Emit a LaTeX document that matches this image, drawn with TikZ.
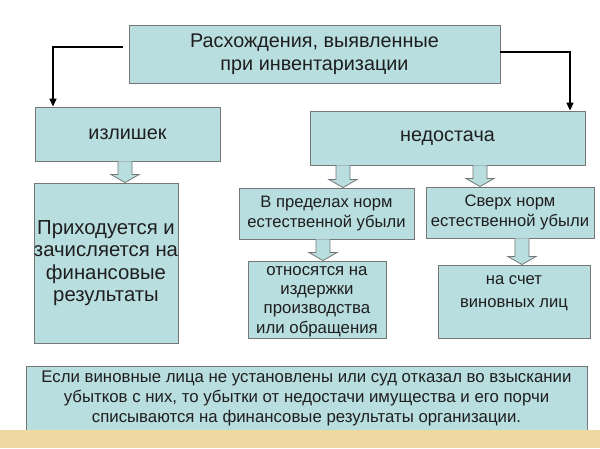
\documentclass[tikz,border=0pt]{standalone}
\usepackage{fontspec}
\setmainfont{Liberation Sans}
\usetikzlibrary{arrows.meta,calc}
\definecolor{boxfill}{RGB}{185,222,224}
\definecolor{boxline}{RGB}{118,118,118}
\definecolor{bandfill}{RGB}{238,217,160}
\definecolor{textdark}{RGB}{30,30,30}
\tikzset{
  box/.style={draw=boxline,fill=boxfill,line width=0.9pt,align=center,inner sep=0pt,text=textdark},
  linearrow/.style={line width=1.6pt,-{Triangle[length=8pt,width=7pt]}},
  blockarrow/.style={draw=boxline,fill=boxfill,line width=0.8pt}
}
% block arrow at x (pt) from the bottom of one box to the top of the next
\newcommand{\blockarrow}[3]{%
  \filldraw[blockarrow] let \p1=(#2.south), \p2=(#3.north) in
    (#1pt-7pt,\y1) -- (#1pt-7pt,\y2+8pt) -- (#1pt-14pt,\y2+8pt) -- (#1pt,\y2)
    -- (#1pt+14pt,\y2+8pt) -- (#1pt+7pt,\y2+8pt) -- (#1pt+7pt,\y1);}
\begin{document}
\begin{tikzpicture}[x=1pt,y=-1pt]
  \useasboundingbox (0,0) rectangle (600,448);
  \fill[white] (0,0) rectangle (600,448);

  \node[box,minimum width=371pt,minimum height=58pt,font=\fontsize{19.8}{23}\selectfont] (top) at (314.5,54)
    {Расхождения, выявленные\\при инвентаризации};
  \node[box,minimum width=185pt,minimum height=54pt,font=\fontsize{19.8}{23}\selectfont] (izl) at (127.5,134) {излишек};
  \node[box,minimum width=275pt,minimum height=54pt,font=\fontsize{19.8}{23}\selectfont] (ned) at (447.5,138) {недостача};

  \node[box,minimum width=142pt,minimum height=160pt,font=\fontsize{20.3}{22.5}\selectfont] (prih) at (106,263)
    {Приходуется и\\зачисляется на\\финансовые\\результаты};
  \node[box,minimum width=175pt,minimum height=51pt,font=\fontsize{16.6}{20}\selectfont] (vpred) at (326.5,213.5)
    {В пределах норм\\естественной убыли};
  \node[box,minimum width=168pt,minimum height=51pt,font=\fontsize{16.6}{20}\selectfont] (sverh) at (510,212.5)
    {Сверх норм\\естественной убыли};
  \node[box,minimum width=138pt,minimum height=77pt] (otn) at (317,299.5) {};
  \node[align=center,text=textdark,font=\fontsize{16.8}{19.3}\selectfont] (otntxt) at (317,301.5)
    {относятся на\\издержки\\производства\\или обращения};
  \node[box,minimum width=152pt,minimum height=73pt] (nasch) at (514,301.5) {};
  \node[align=center,text=textdark,font=\fontsize{16.6}{23}\selectfont] (naschtxt) at (514,293.5) {на счет\\виновных лиц};

  \node[box,minimum width=561pt,minimum height=64pt,font=\fontsize{16.8}{20}\selectfont] (bot) at (306.5,398)
    {Если виновные лица не установлены или суд отказал во взыскании\\
     убытков с них, то убытки от недостачи имущества и его порчи\\
     списываются на финансовые результаты организации.};
  \fill[bandfill] (0,430) rectangle (600,448);

  \draw[linearrow] ([xshift=-6pt,yshift=7pt]top.west) -| ([xshift=-74.5pt]izl.north);
  \draw[linearrow] ([yshift=2pt]top.east) -| ([xshift=122.5pt]ned.north);

  \blockarrow{125}{izl}{prih}
  \blockarrow{343}{ned}{vpred}
  \blockarrow{480}{ned}{sverh}
  \blockarrow{323}{vpred}{otn}
  \blockarrow{522}{sverh}{nasch}
\end{tikzpicture}
\end{document}
